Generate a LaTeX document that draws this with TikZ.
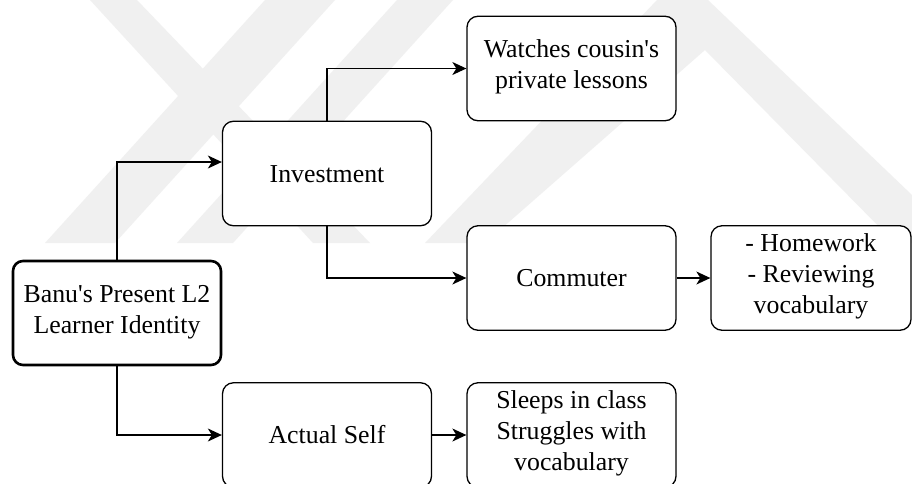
\documentclass[tikz,border=0pt]{standalone}
\usepackage{fontspec}
\setmainfont{Liberation Serif}
\usetikzlibrary{arrows.meta}
\definecolor{wmgray}{HTML}{F0F0F0}
% fixed line boxes so every label sits evenly inside its box
\newcommand\boxtopstrut{\rule{0pt}{25.5pt}}
\newcommand\boxbotstrut{\rule[-8pt]{0pt}{8pt}}
\begin{document}
\begin{tikzpicture}[x=1pt,y=-1pt,
  box/.style={draw=black, fill=white, rounded corners=11pt, line width=1.3pt,
    inner sep=0pt, align=center, font=\fontsize{25.8}{31}\selectfont,
    execute at begin node=\boxtopstrut, execute at end node=\boxbotstrut,
    minimum width=209pt, minimum height=104.5pt},
  rootbox/.style={box, line width=2.6pt, rounded corners=10pt,
    minimum width=208pt, minimum height=104pt},
  link/.style={line width=1.3pt, -{Stealth[length=14pt,width=13pt,inset=4pt]}},
  band/.style={fill=wmgray, draw=none}]

% page frame
\clip (0,0) rectangle (912,483);
\fill[white] (0,0) rectangle (912,483);

% faint background emblem
\fill[band] (45,243) -- (115,243) -- (335,0) -- (265,0) -- cycle;
\fill[band] (90,0) -- (137,0) -- (370,243) -- (313,243) -- cycle;
\fill[band] (177,243) -- (233,243) -- (453,0) -- (397,0) -- cycle;
\fill[band] (425,243) -- (485,243) -- (705,50) -- (895,243) -- (912,243)
  -- (912,195) -- (708,0) -- (657,0) -- cycle;

% boxes
\node[rootbox] (banu) at (117,313) {Banu\textquotesingle s Present L2\\Learner Identity};
\node[box] (inv) at (327,173.5) {Investment};
\node[box] (wat) at (571.5,68.5) {Watches cousin\textquotesingle s\\private lessons};
\node[box] (com) at (571.5,278) {Commuter};
\node[box, minimum width=200pt] (hw) at (811,278) {- Homework\\- Reviewing\\vocabulary};
\node[box] (act) at (327,435) {Actual Self};
\node[box] (slp) at (571.5,435) {Sleeps in class\\Struggles with\\vocabulary};

% connectors
\draw[link] (banu.north) |- ([yshift=11.5pt]inv.west);
\draw[link] (inv.north) |- (wat.west);
\draw[link] (inv.south) |- (com.west);
\draw[link] (com.east) -- (hw.west);
\draw[link] (banu.south) |- (act.west);
\draw[link] (act.east) -- (slp.west);
\end{tikzpicture}
\end{document}
